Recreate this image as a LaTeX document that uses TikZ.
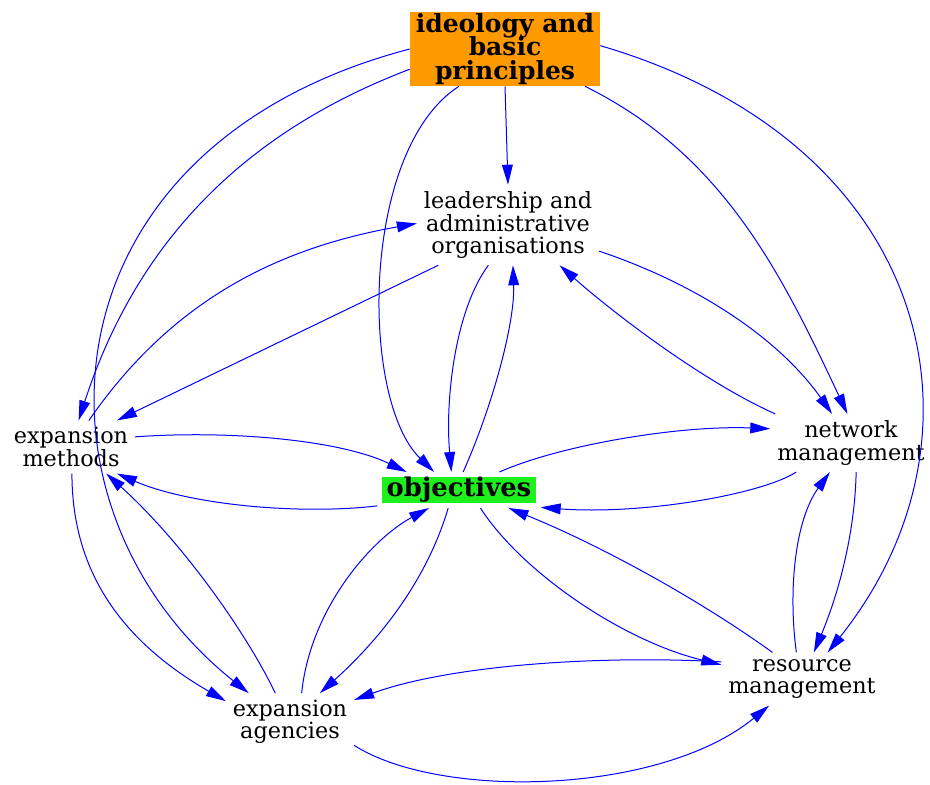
\documentclass[tikz,border=0pt]{standalone}
\usepackage{fontspec}
\setmainfont{DejaVu Serif}
\usetikzlibrary{arrows.meta}
\definecolor{ideoorange}{RGB}{255,153,0}
\definecolor{objgreen}{RGB}{30,240,30}
\definecolor{linkblue}{RGB}{0,0,255}

\begin{document}
\begin{tikzpicture}[x=0.6pt,y=-0.6pt,
    concept/.style={align=center,inner sep=4pt,font=\fontsize{13.4}{13.4}\selectfont},
    keybox/.style={align=center,inner sep=0pt,font=\bfseries\fontsize{15}{14.2}\selectfont\lineskiplimit-10pt},
    link/.style={draw=linkblue,line width=0.6pt,-{Triangle[length=12pt,width=6.5pt]}}]
  \useasboundingbox (0,0) rectangle (930,784);

  % Coloured boxes
  \node[keybox,fill=ideoorange,minimum width=114pt,minimum height=44.4pt] (ideo) at (505,49) {ideology and\\basic\\principles};
  \node[keybox,fill=objgreen,minimum width=92pt,minimum height=15.6pt,outer sep=3pt,font=\bfseries\fontsize{15.5}{16}\selectfont] (obj) at (459,490) {objectives};

  % Other nodes
  \node[concept] (lead) at (508,225) {leadership and\\administrative\\organisations};
  \node[concept] (expm) at (71,447) {expansion\\methods};
  \node[concept] (net) at (851,443) {network\\management};
  \node[concept] (res) at (802,679) {resource\\management};
  \node[concept] (ag) at (290,722) {expansion\\agencies};

  % From ideology
  \draw[link] (ideo.south) -- (lead.north);
  \draw[link] (ideo.219) .. controls (360,150) and (360,400) .. (obj.144);
  \draw[link] (ideo.192) .. controls (242,133) and (136,244) .. (expm.74);
  \draw[link] (ideo.west) .. controls (33,148) and (19,510) .. (ag.145);
  \draw[link] (ideo.335) .. controls (724,155) and (782,275) .. (net.97);
  \draw[link] (ideo.2) .. controls (936,144) and (999,438) .. (res.46);

  % Leadership
  \draw[link] (lead.210) -- (expm.30);
  \draw[link] (expm.56) .. controls (172,300) and (278,248) .. (lead.179);
  \draw[link] (lead.244) .. controls (455,310) and (445,400) .. (obj.113);
  \draw[link] (obj.77) .. controls (495,400) and (515,320) .. (lead.277);
  \draw[link] (lead.344) .. controls (700,285) and (780,340) .. (net.123);
  \draw[link] (net.159) .. controls (700,380) and (610,310) .. (lead.322);

  % Expansion methods
  \draw[link] (expm.9) .. controls (230,430) and (340,440) .. (obj.161);
  \draw[link] (obj.191) .. controls (300,515) and (190,505) .. (expm.330);
  \draw[link] (expm.272) .. controls (72,570) and (120,640) .. (ag.162);
  \draw[link] (ag.117) .. controls (245,630) and (180,540) .. (expm.323);

  % Objectives
  \draw[link] (obj.24) .. controls (560,445) and (680,425) .. (net.170);
  \draw[link] (net.208) .. controls (760,495) and (640,515) .. (obj.348);
  \draw[link] (obj.320) .. controls (520,570) and (620,640) .. (res.170);
  \draw[link] (res.138) .. controls (700,600) and (600,545) .. (obj.340);
  \draw[link] (obj.239) .. controls (430,570) and (390,630) .. (ag.44);
  \draw[link] (ag.68) .. controls (310,610) and (370,540) .. (obj.211);

  % Network and resources
  \draw[link] (net.280) .. controls (855,530) and (840,590) .. (res.66);
  \draw[link] (res.102) .. controls (788,590) and (795,520) .. (net.234);
  \draw[link] (res.168) .. controls (600,655) and (450,665) .. (ag.19);
  \draw[link] (ag.340) .. controls (440,800) and (660,795) .. (res.219);
\end{tikzpicture}
\end{document}
